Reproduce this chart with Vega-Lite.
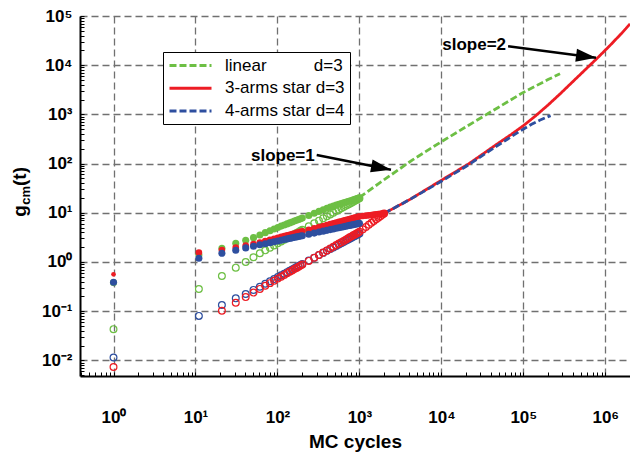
{
  "$schema": "https://vega.github.io/schema/vega-lite/v6.json",
  "width": 550,
  "height": 360,
  "autosize": {"type": "none"},
  "padding": {"left": 80, "top": 16, "right": 0, "bottom": 77},
  "background": "white",
  "config": {
    "view": {"stroke": null},
    "font": "Liberation Sans",
    "axis": {"labelFont": "Liberation Sans", "labelFontWeight": "bold", "labelFontSize": 17, "labelColor": "black", "gridColor": "#707070", "gridDash": [7, 4], "gridWidth": 1.3, "domainColor": "black", "domainWidth": 2, "tickColor": "black", "titleFont": "Liberation Sans", "titleColor": "black"}
  },
  "datasets": {
    "lines": [
      {"series": "linear", "t": 1001, "g": 20.5}, {"series": "linear", "t": 1750, "g": 40}, {"series": "linear", "t": 4450, "g": 119}, {"series": "linear", "t": 9400, "g": 261}, {"series": "linear", "t": 20000, "g": 560}, {"series": "linear", "t": 50000, "g": 1400}, {"series": "linear", "t": 97300, "g": 2730}, {"series": "linear", "t": 200000, "g": 5100}, {"series": "linear", "t": 280000, "g": 6700},
      {"series": "star3", "t": 2001, "g": 9.7}, {"series": "star3", "t": 4055, "g": 18.3}, {"series": "star3", "t": 10000, "g": 45.7}, {"series": "star3", "t": 21800, "g": 100}, {"series": "star3", "t": 50100, "g": 263}, {"series": "star3", "t": 70800, "g": 389}, {"series": "star3", "t": 100000, "g": 589}, {"series": "star3", "t": 141000, "g": 933}, {"series": "star3", "t": 200000, "g": 1549}, {"series": "star3", "t": 282000, "g": 2630}, {"series": "star3", "t": 398000, "g": 4571}, {"series": "star3", "t": 562000, "g": 7943}, {"series": "star3", "t": 794000, "g": 13800}, {"series": "star3", "t": 1122000, "g": 24500}, {"series": "star3", "t": 1585000, "g": 44700}, {"series": "star3", "t": 2000000, "g": 69200},
      {"series": "star4", "t": 2001, "g": 9.7}, {"series": "star4", "t": 4055, "g": 18.3}, {"series": "star4", "t": 10000, "g": 43.7}, {"series": "star4", "t": 19900, "g": 87.3}, {"series": "star4", "t": 31600, "g": 145}, {"series": "star4", "t": 44700, "g": 214}, {"series": "star4", "t": 63100, "g": 309}, {"series": "star4", "t": 89100, "g": 447}, {"series": "star4", "t": 126000, "g": 631}, {"series": "star4", "t": 158000, "g": 759}, {"series": "star4", "t": 215000, "g": 944}
    ],
    "GF": [{"t":1,"g":0.38},{"t":11,"g":1.39},{"t":21,"g":1.90},{"t":31,"g":2.40},{"t":41,"g":2.77},{"t":51,"g":3.12},{"t":61,"g":3.54},{"t":71,"g":3.94},{"t":81,"g":4.32},{"t":91,"g":4.69},{"t":101,"g":5.03},{"t":111,"g":5.35},{"t":121,"g":5.65},{"t":131,"g":5.94},{"t":141,"g":6.22},{"t":151,"g":6.51},{"t":161,"g":6.78},{"t":171,"g":7.05},{"t":181,"g":7.31},{"t":191,"g":7.57},{"t":201,"g":7.82},{"t":241,"g":8.82},{"t":281,"g":9.75},{"t":321,"g":10.66},{"t":361,"g":11.5},{"t":401,"g":12.3},{"t":441,"g":13.0},{"t":481,"g":13.7},{"t":521,"g":14.3},{"t":561,"g":14.9},{"t":601,"g":15.4},{"t":641,"g":15.9},{"t":681,"g":16.4},{"t":721,"g":16.9},{"t":761,"g":17.4},{"t":801,"g":17.8},{"t":841,"g":18.3},{"t":881,"g":18.7},{"t":921,"g":19.2},{"t":961,"g":19.6},{"t":1001,"g":20.0}],
    "GO": [{"t":1,"g":0.043},{"t":11,"g":0.282},{"t":21,"g":0.519},{"t":31,"g":0.765},{"t":41,"g":1.0},{"t":51,"g":1.25},{"t":61,"g":1.5},{"t":71,"g":1.72},{"t":81,"g":1.95},{"t":91,"g":2.17},{"t":101,"g":2.39},{"t":111,"g":2.60},{"t":121,"g":2.82},{"t":131,"g":3.03},{"t":141,"g":3.24},{"t":151,"g":3.45},{"t":161,"g":3.66},{"t":171,"g":3.87},{"t":181,"g":4.08},{"t":191,"g":4.29},{"t":201,"g":4.49},{"t":241,"g":5.31},{"t":281,"g":6.11},{"t":321,"g":6.91},{"t":361,"g":7.70},{"t":401,"g":8.48},{"t":441,"g":9.26},{"t":481,"g":10.03},{"t":521,"g":10.8},{"t":561,"g":11.55},{"t":601,"g":12.3},{"t":641,"g":13.06},{"t":681,"g":13.8},{"t":721,"g":14.55},{"t":761,"g":15.3},{"t":801,"g":16.03},{"t":841,"g":16.77},{"t":881,"g":17.5},{"t":921,"g":18.23},{"t":961,"g":18.95},{"t":1001,"g":19.68}],
    "BF": [{"t":1,"g":0.386},{"t":11,"g":1.19},{"t":21,"g":1.50},{"t":31,"g":1.73},{"t":41,"g":1.93},{"t":51,"g":2.09},{"t":61,"g":2.23},{"t":71,"g":2.35},{"t":81,"g":2.47},{"t":91,"g":2.57},{"t":101,"g":2.67},{"t":111,"g":2.77},{"t":121,"g":2.85},{"t":131,"g":2.94},{"t":141,"g":3.01},{"t":151,"g":3.09},{"t":161,"g":3.16},{"t":171,"g":3.23},{"t":181,"g":3.30},{"t":191,"g":3.36},{"t":201,"g":3.42},{"t":241,"g":3.66},{"t":281,"g":3.86},{"t":321,"g":4.05},{"t":361,"g":4.23},{"t":401,"g":4.39},{"t":441,"g":4.54},{"t":481,"g":4.69},{"t":521,"g":4.83},{"t":561,"g":4.95},{"t":601,"g":5.08},{"t":641,"g":5.20},{"t":681,"g":5.31},{"t":721,"g":5.42},{"t":761,"g":5.53},{"t":801,"g":5.63},{"t":841,"g":5.73},{"t":881,"g":5.83},{"t":921,"g":5.92},{"t":961,"g":6.01},{"t":1001,"g":6.10}],
    "BO": [{"t":1,"g":0.0114},{"t":11,"g":0.080},{"t":21,"g":0.133},{"t":31,"g":0.182},{"t":41,"g":0.223},{"t":51,"g":0.27},{"t":61,"g":0.314},{"t":71,"g":0.359},{"t":81,"g":0.404},{"t":91,"g":0.448},{"t":101,"g":0.492},{"t":111,"g":0.535},{"t":121,"g":0.578},{"t":131,"g":0.620},{"t":141,"g":0.662},{"t":151,"g":0.704},{"t":161,"g":0.745},{"t":171,"g":0.786},{"t":181,"g":0.827},{"t":191,"g":0.867},{"t":201,"g":0.908},{"t":241,"g":1.07},{"t":281,"g":1.22},{"t":321,"g":1.38},{"t":361,"g":1.53},{"t":401,"g":1.68},{"t":441,"g":1.83},{"t":481,"g":1.97},{"t":521,"g":2.12},{"t":561,"g":2.26},{"t":601,"g":2.41},{"t":641,"g":2.55},{"t":681,"g":2.69},{"t":721,"g":2.83},{"t":761,"g":2.97},{"t":801,"g":3.11},{"t":841,"g":3.24},{"t":881,"g":3.38},{"t":921,"g":3.52},{"t":961,"g":3.65},{"t":1001,"g":3.79}],
    "RF1": [{"t":1,"g":0.56}],
    "RF": [{"t":11,"g":1.55},{"t":21,"g":1.75},{"t":31,"g":1.95},{"t":41,"g":2.15},{"t":51,"g":2.30},{"t":61,"g":2.49},{"t":71,"g":2.66},{"t":81,"g":2.81},{"t":91,"g":2.96},{"t":101,"g":3.10},{"t":111,"g":3.23},{"t":121,"g":3.35},{"t":131,"g":3.47},{"t":141,"g":3.58},{"t":151,"g":3.69},{"t":161,"g":3.79},{"t":171,"g":3.89},{"t":181,"g":3.99},{"t":191,"g":4.08},{"t":201,"g":4.18},{"t":241,"g":4.52},{"t":281,"g":4.83},{"t":321,"g":5.12},{"t":361,"g":5.39},{"t":401,"g":5.64},{"t":441,"g":5.88},{"t":481,"g":6.10},{"t":521,"g":6.32},{"t":561,"g":6.53},{"t":601,"g":6.73},{"t":641,"g":6.92},{"t":681,"g":7.10},{"t":721,"g":7.28},{"t":761,"g":7.45},{"t":801,"g":7.62},{"t":841,"g":7.78},{"t":881,"g":7.94},{"t":921,"g":8.10},{"t":961,"g":8.25},{"t":1001,"g":8.40},{"t":1101,"g":8.57},{"t":1201,"g":8.72},{"t":1301,"g":8.87},{"t":1401,"g":9.01},{"t":1501,"g":9.14},{"t":1601,"g":9.27},{"t":1701,"g":9.39},{"t":1801,"g":9.50},{"t":1901,"g":9.61},{"t":2001,"g":9.71}],
    "RO": [{"t":1,"g":0.0073},{"t":21,"g":0.102},{"t":31,"g":0.148},{"t":41,"g":0.193},{"t":51,"g":0.238},{"t":61,"g":0.283},{"t":71,"g":0.327},{"t":81,"g":0.371},{"t":91,"g":0.414},{"t":101,"g":0.458},{"t":111,"g":0.501},{"t":121,"g":0.544},{"t":131,"g":0.587},{"t":141,"g":0.630},{"t":151,"g":0.673},{"t":161,"g":0.715},{"t":171,"g":0.757},{"t":181,"g":0.800},{"t":191,"g":0.842},{"t":201,"g":0.884},{"t":241,"g":1.05},{"t":281,"g":1.22},{"t":321,"g":1.38},{"t":361,"g":1.55},{"t":401,"g":1.71},{"t":441,"g":1.87},{"t":481,"g":2.04},{"t":521,"g":2.20},{"t":561,"g":2.36},{"t":601,"g":2.52},{"t":641,"g":2.68},{"t":681,"g":2.84},{"t":721,"g":3.00},{"t":761,"g":3.16},{"t":801,"g":3.31},{"t":841,"g":3.47},{"t":881,"g":3.63},{"t":921,"g":3.79},{"t":961,"g":3.94},{"t":1001,"g":4.10},{"t":1101,"g":4.62},{"t":1201,"g":5.14},{"t":1301,"g":5.68},{"t":1401,"g":6.23},{"t":1501,"g":6.78},{"t":1601,"g":7.35},{"t":1701,"g":7.92},{"t":1801,"g":8.50},{"t":1901,"g":9.09},{"t":2001,"g":9.68}],
    "arrows": [{"label": "slope=1", "t": 301, "g": 149, "t2": 2427, "g2": 74.8}, {"label": "slope=2", "t": 65100, "g": 24270, "t2": 769000, "g2": 14090}],
    "notes": [{"label": "slope=1", "t": 116.4, "g": 114}, {"label": "slope=2", "t": 25080, "g": 20300}],
    "ytitle": [{"label": "g", "t": 0.0852, "g": 8.25}, {"label": "(t)", "t": 0.0852, "g": 35.0}],
    "ysub": [{"label": "cm", "t": 0.0953, "g": 14.5}]
  },
  "layer": [
    {
      "data": {"name": "lines"},
      "mark": {"type": "line", "strokeWidth": 2.8},
      "encoding": {
        "x": {"field": "t", "type": "quantitative", "scale": {"type": "log", "domain": [0.39, 2000000], "nice": false},
              "axis": {"orient": "bottom", "values": [1, 10, 100, 1000, 10000, 100000, 1000000], "labelExpr": "'10' + ['\u2070','\u00b9','\u00b2','\u00b3','\u2074','\u2075','\u2076'][round(log(datum.value)/LN10)]", "ticks": false, "grid": true, "domain": true, "labelPadding": 33, "labelFlush": false, "labelOverlap": false, "title": "MC cycles", "titleFontSize": 19, "titleFontWeight": "bold", "titlePadding": 7}},
        "y": {"field": "g", "type": "quantitative", "scale": {"type": "log", "domain": [0.0048, 100000], "nice": false},
              "axis": {"orient": "left", "values": [0.01, 0.1, 1, 10, 100, 1000, 10000, 100000], "labelExpr": "'10' + ['\u207b\u00b2','\u207b\u00b9','\u2070','\u00b9','\u00b2','\u00b3','\u2074','\u2075'][round(log(datum.value)/LN10)+2]", "ticks": false, "grid": true, "domain": true, "labelPadding": 8, "labelFlush": false, "labelOverlap": false, "title": null}},
        "color": {"field": "series", "type": "nominal", "scale": {"domain": ["linear", "star3", "star4"], "range": ["#6dbf44", "#ed1c24", "#2e4f9f"]},
                  "legend": {"orient": "none", "legendX": 83, "legendY": 36, "title": null, "symbolType": "M-1,0H5", "symbolSize": 196, "symbolStrokeWidth": 3, "labelFont": "Liberation Sans", "labelFontSize": 17, "labelColor": "black", "labelOffset": 40, "padding": 5, "rowPadding": 4.7, "strokeColor": "black", "fillColor": "white", "labelLimit": 400, "labelExpr": "datum.value == 'linear' ? 'linear\u00a0\u00a0\u00a0\u00a0\u00a0\u00a0\u00a0\u00a0\u00a0\u00a0d=3' : datum.value == 'star3' ? '3-arms star d=3' : '4-arms star d=4'"}},
        "strokeDash": {"field": "series", "type": "nominal", "scale": {"domain": ["linear", "star3", "star4"], "range": [[7, 3], [1, 0], [7, 3]]},
                  "legend": {"orient": "none", "legendX": 83, "legendY": 36, "title": null, "symbolType": "M-1,0H5", "symbolSize": 196, "symbolStrokeWidth": 3, "labelFont": "Liberation Sans", "labelFontSize": 17, "labelColor": "black", "labelOffset": 40, "padding": 5, "rowPadding": 4.7, "strokeColor": "black", "fillColor": "white", "labelLimit": 400, "labelExpr": "datum.value == 'linear' ? 'linear\u00a0\u00a0\u00a0\u00a0\u00a0\u00a0\u00a0\u00a0\u00a0\u00a0d=3' : datum.value == 'star3' ? '3-arms star d=3' : '4-arms star d=4'"}}
      }
    },
    {
      "data": {"name": "GO"},
      "mark": {"type": "point", "shape": "circle", "filled": false, "size": 46, "strokeWidth": 1.2, "color": "#6dbf44", "opacity": 1},
      "encoding": {
        "x": {"field": "t", "type": "quantitative", "scale": {"type": "log", "domain": [0.39, 2000000], "nice": false},
              "axis": {"orient": "bottom", "values": [0.4,0.5,0.6,0.7,0.8,0.9,1,2,3,4,5,6,7,8,9,10,20,30,40,50,60,70,80,90,100,200,300,400,500,600,700,800,900,1000,2000,3000,4000,5000,6000,7000,8000,9000,10000,20000,30000,40000,50000,60000,70000,80000,90000,100000,200000,300000,400000,500000,600000,700000,800000,900000,1000000], "labels": false, "grid": false, "domain": false, "ticks": true, "tickSize": -4, "tickWidth": 1, "title": null}},
        "y": {"field": "g", "type": "quantitative", "scale": {"type": "log", "domain": [0.0048, 100000], "nice": false},
              "axis": {"orient": "left", "values": [0.005,0.006,0.007,0.008,0.009,0.01,0.02,0.03,0.04,0.05,0.06,0.07,0.08,0.09,0.1,0.2,0.3,0.4,0.5,0.6,0.7,0.8,0.9,1,2,3,4,5,6,7,8,9,10,20,30,40,50,60,70,80,90,100,200,300,400,500,600,700,800,900,1000,2000,3000,4000,5000,6000,7000,8000,9000,10000,20000,30000,40000,50000,60000,70000,80000,90000,100000], "labels": false, "grid": false, "domain": false, "ticks": true, "tickSize": -4, "tickWidth": 1, "title": null}}
      }
    },
    {
      "data": {"name": "BO"},
      "mark": {"type": "point", "shape": "circle", "filled": false, "size": 46, "strokeWidth": 1.2, "color": "#2e4f9f", "opacity": 1},
      "encoding": {
        "x": {"field": "t", "type": "quantitative", "scale": {"type": "log", "domain": [0.39, 2000000], "nice": false}, "axis": null},
        "y": {"field": "g", "type": "quantitative", "scale": {"type": "log", "domain": [0.0048, 100000], "nice": false}, "axis": null}
      }
    },
    {
      "data": {"name": "RO"},
      "mark": {"type": "point", "shape": "circle", "filled": false, "size": 46, "strokeWidth": 1.2, "color": "#ed1c24", "opacity": 1},
      "encoding": {
        "x": {"field": "t", "type": "quantitative", "scale": {"type": "log", "domain": [0.39, 2000000], "nice": false}, "axis": null},
        "y": {"field": "g", "type": "quantitative", "scale": {"type": "log", "domain": [0.0048, 100000], "nice": false}, "axis": null}
      }
    },
    {
      "data": {"name": "GF"},
      "mark": {"type": "circle", "size": 50, "color": "#6dbf44", "opacity": 1},
      "encoding": {
        "x": {"field": "t", "type": "quantitative", "scale": {"type": "log", "domain": [0.39, 2000000], "nice": false}, "axis": null},
        "y": {"field": "g", "type": "quantitative", "scale": {"type": "log", "domain": [0.0048, 100000], "nice": false}, "axis": null}
      }
    },
    {
      "data": {"name": "RF1"},
      "mark": {"type": "circle", "size": 22, "color": "#ed1c24", "opacity": 1},
      "encoding": {
        "x": {"field": "t", "type": "quantitative", "scale": {"type": "log", "domain": [0.39, 2000000], "nice": false}, "axis": null},
        "y": {"field": "g", "type": "quantitative", "scale": {"type": "log", "domain": [0.0048, 100000], "nice": false}, "axis": null}
      }
    },
    {
      "data": {"name": "RF"},
      "mark": {"type": "circle", "size": 44, "color": "#ed1c24", "opacity": 1},
      "encoding": {
        "x": {"field": "t", "type": "quantitative", "scale": {"type": "log", "domain": [0.39, 2000000], "nice": false}, "axis": null},
        "y": {"field": "g", "type": "quantitative", "scale": {"type": "log", "domain": [0.0048, 100000], "nice": false}, "axis": null}
      }
    },
    {
      "data": {"name": "BF"},
      "mark": {"type": "circle", "size": 50, "color": "#2e4f9f", "opacity": 1},
      "encoding": {
        "x": {"field": "t", "type": "quantitative", "scale": {"type": "log", "domain": [0.39, 2000000], "nice": false}, "axis": null},
        "y": {"field": "g", "type": "quantitative", "scale": {"type": "log", "domain": [0.0048, 100000], "nice": false}, "axis": null}
      }
    },
    {
      "data": {"name": "arrows"},
      "mark": {"type": "rule", "strokeWidth": 2.5, "color": "black"},
      "encoding": {
        "x": {"field": "t", "type": "quantitative", "scale": {"type": "log", "domain": [0.39, 2000000], "nice": false}, "axis": null},
        "y": {"field": "g", "type": "quantitative", "scale": {"type": "log", "domain": [0.0048, 100000], "nice": false}, "axis": null},
        "x2": {"field": "t2"},
        "y2": {"field": "g2"}
      }
    },
    {
      "data": {"name": "arrows"},
      "transform": [{"filter": "datum.label == 'slope=1'"}],
      "mark": {"type": "point", "shape": "M0,0L-2,-0.65L-2,0.65Z", "size": 400, "filled": true, "color": "black", "strokeWidth": 0, "opacity": 1, "angle": 11.2},
      "encoding": {
        "x": {"field": "t2", "type": "quantitative", "scale": {"type": "log", "domain": [0.39, 2000000], "nice": false}, "axis": null},
        "y": {"field": "g2", "type": "quantitative", "scale": {"type": "log", "domain": [0.0048, 100000], "nice": false}, "axis": null}
      }
    },
    {
      "data": {"name": "arrows"},
      "transform": [{"filter": "datum.label == 'slope=2'"}],
      "mark": {"type": "point", "shape": "M0,0L-2,-0.65L-2,0.65Z", "size": 400, "filled": true, "color": "black", "strokeWidth": 0, "opacity": 1, "angle": 7.5},
      "encoding": {
        "x": {"field": "t2", "type": "quantitative", "scale": {"type": "log", "domain": [0.39, 2000000], "nice": false}, "axis": null},
        "y": {"field": "g2", "type": "quantitative", "scale": {"type": "log", "domain": [0.0048, 100000], "nice": false}, "axis": null}
      }
    },
    {
      "data": {"name": "notes"},
      "mark": {"type": "text", "font": "Liberation Sans", "fontSize": 17, "fontWeight": "bold", "align": "center", "baseline": "alphabetic", "color": "black"},
      "encoding": {
        "x": {"field": "t", "type": "quantitative", "scale": {"type": "log", "domain": [0.39, 2000000], "nice": false}, "axis": null},
        "y": {"field": "g", "type": "quantitative", "scale": {"type": "log", "domain": [0.0048, 100000], "nice": false}, "axis": null},
        "text": {"field": "label"}
      }
    },
    {
      "data": {"name": "ytitle"},
      "mark": {"type": "text", "font": "Liberation Sans", "fontSize": 19, "fontWeight": "bold", "align": "left", "baseline": "alphabetic", "angle": 270, "color": "black"},
      "encoding": {
        "x": {"field": "t", "type": "quantitative", "scale": {"type": "log", "domain": [0.39, 2000000], "nice": false}, "axis": null},
        "y": {"field": "g", "type": "quantitative", "scale": {"type": "log", "domain": [0.0048, 100000], "nice": false}, "axis": null},
        "text": {"field": "label"}
      }
    },
    {
      "data": {"name": "ysub"},
      "mark": {"type": "text", "font": "Liberation Sans", "fontSize": 13, "fontWeight": "bold", "align": "left", "baseline": "alphabetic", "angle": 270, "color": "black"},
      "encoding": {
        "x": {"field": "t", "type": "quantitative", "scale": {"type": "log", "domain": [0.39, 2000000], "nice": false}, "axis": null},
        "y": {"field": "g", "type": "quantitative", "scale": {"type": "log", "domain": [0.0048, 100000], "nice": false}, "axis": null},
        "text": {"field": "label"}
      }
    }
  ],
  "resolve": {"axis": {"x": "independent", "y": "independent"}}
}
